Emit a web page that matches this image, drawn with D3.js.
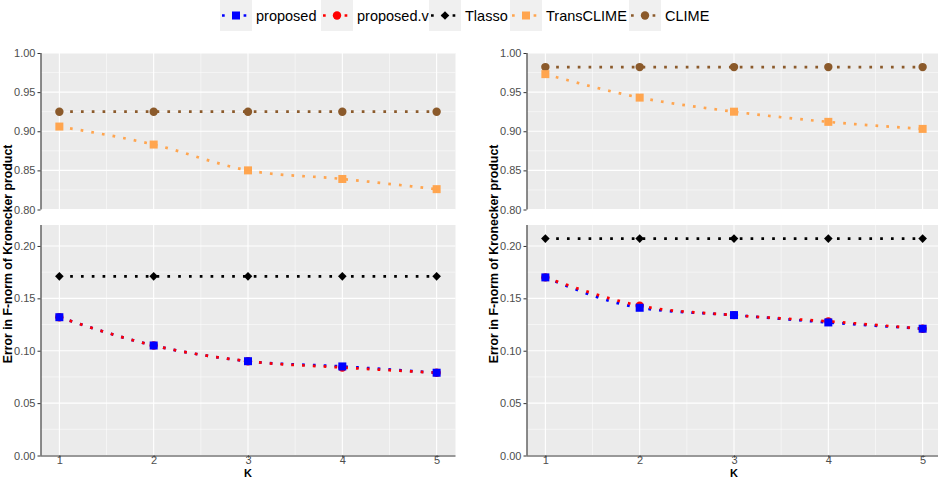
<!DOCTYPE html>
<html>
<head>
<meta charset="utf-8">
<script src="https://cdn.jsdelivr.net/npm/d3@7"></script>
<style>
  body { margin: 0; background: #fff; }
  svg { display: block; font-family: "Liberation Sans", Arial, sans-serif; }
</style>
</head>
<body>
<svg id="chart" width="938" height="479"></svg>
<script>
// データ
var kValues = [1, 2, 3, 4, 5];
var seriesNames = ["proposed", "proposed.v", "Tlasso", "TransCLIME", "CLIME"];
var seriesColors = ["#0000FF", "#FF0000", "#000000", "#FFA54F", "#8B5A2B"];
var seriesShapes = ["square", "circle", "diamond", "square", "circle"];

// 左側のパネル
var leftCLIME = [0.925, 0.925, 0.925, 0.925, 0.925];
var leftTransCLIME = [0.906, 0.883, 0.850, 0.839, 0.826];
var leftTlasso = [0.171, 0.171, 0.171, 0.171, 0.171];
var leftProposed = [0.132, 0.105, 0.090, 0.085, 0.079];
var leftProposedV = [0.132, 0.105, 0.090, 0.084, 0.079];

// 右側のパネル
var rightCLIME = [0.982, 0.982, 0.982, 0.982, 0.982];
var rightTransCLIME = [0.973, 0.943, 0.925, 0.912, 0.903];
var rightTlasso = [0.207, 0.207, 0.207, 0.207, 0.207];
var rightProposed = [0.170, 0.141, 0.134, 0.127, 0.121];
var rightProposedV = [0.170, 0.143, 0.134, 0.128, 0.121];

var topTicks = [0.80, 0.85, 0.90, 0.95, 1.00];
var bottomTicks = [0.00, 0.05, 0.10, 0.15, 0.20];

var svg = d3.select("#chart");

// 系列名 -> 色, 形
function colorOf(name) { return seriesColors[seriesNames.indexOf(name)]; }
function shapeOf(name) { return seriesShapes[seriesNames.indexOf(name)]; }

function drawMarker(g, name, x, y) {
    var shape = shapeOf(name), col = colorOf(name);
    if (shape == "square") {
        g.append("rect").attr("x", x - 4).attr("y", y - 4)
            .attr("width", 8).attr("height", 8).attr("fill", col);
    } else if (shape == "circle") {
        g.append("circle").attr("cx", x).attr("cy", y).attr("r", 4.2).attr("fill", col);
    } else {
        g.append("path")
            .attr("d", "M" + x + "," + (y - 4.3) + "L" + (x + 4.3) + "," + y + "L" + x + "," + (y + 4.3) + "L" + (x - 4.3) + "," + y + "Z")
            .attr("fill", col);
    }
}

function drawPanel(opt) {
    var g = svg.append("g");
    var x = d3.scaleLinear().domain([0.8, 5.2]).range([opt.x0, opt.x0 + 415]);
    var y = d3.scaleLinear().domain(opt.domain).range([opt.y1, opt.y0]);

    // 背景
    g.append("rect").attr("x", opt.x0).attr("y", opt.y0)
        .attr("width", 415).attr("height", opt.y1 - opt.y0).attr("fill", "#EBEBEB");

    // 補助目盛
    var yMinor = opt.ticks.map(function(d) { return d + 0.025; })
        .filter(function(d) { return d < opt.domain[1]; });
    g.selectAll(".ymin").data(yMinor).enter().append("line")
        .attr("x1", opt.x0).attr("x2", opt.x0 + 415)
        .attr("y1", function(d) { return y(d); }).attr("y2", function(d) { return y(d); })
        .attr("stroke", "#fff").attr("stroke-width", 0.5);
    g.selectAll(".xmin").data([1.5, 2.5, 3.5, 4.5]).enter().append("line")
        .attr("y1", opt.y0).attr("y2", opt.y1)
        .attr("x1", function(d) { return x(d); }).attr("x2", function(d) { return x(d); })
        .attr("stroke", "#fff").attr("stroke-width", 0.5);
    // 主目盛
    g.selectAll(".ymaj").data(opt.ticks).enter().append("line")
        .attr("x1", opt.x0).attr("x2", opt.x0 + 415)
        .attr("y1", function(d) { return y(d); }).attr("y2", function(d) { return y(d); })
        .attr("stroke", "#fff").attr("stroke-width", 1.1);
    g.selectAll(".xmaj").data(kValues).enter().append("line")
        .attr("y1", opt.y0).attr("y2", opt.y1)
        .attr("x1", function(d) { return x(d); }).attr("x2", function(d) { return x(d); })
        .attr("stroke", "#fff").attr("stroke-width", 1.1);

    // 線
    var line = d3.line().x(function(d, i) { return x(kValues[i]); }).y(function(d) { return y(d); })
        .curve(d3.curveMonotoneX);
    opt.series.forEach(function(s) {
        g.append("path").datum(s.values).attr("d", line)
            .attr("fill", "none").attr("stroke", colorOf(s.name))
            .attr("stroke-width", 2.7).attr("stroke-dasharray", "2.7 8.1");
    });
    // 点 (proposed を最後に描画)
    opt.series.slice().reverse().forEach(function(s) {
        s.values.forEach(function(v, i) { drawMarker(g, s.name, x(kValues[i]), y(v)); });
    });

    // y軸
    var yAxis = g.append("g").attr("transform", "translate(" + opt.x0 + ",0)")
        .call(d3.axisLeft(y).tickValues(opt.ticks).tickSize(3).tickPadding(2).tickFormat(d3.format(".2f")));
    yAxis.select(".domain").attr("stroke", "#333").attr("stroke-width", 1.1)
        .attr("d", "M0.5," + opt.y0 + "V" + opt.y1);
    yAxis.selectAll(".tick line").attr("stroke", "#333");
    yAxis.selectAll("text").attr("fill", "#4D4D4D").style("font-size", "11px")
        .style("font-family", "Liberation Sans, Arial, sans-serif");

    if (opt.xaxis) {
        var xAxis = g.append("g").attr("transform", "translate(0," + opt.y1 + ")")
            .call(d3.axisBottom(x).tickValues(kValues).tickSize(2).tickPadding(0).tickFormat(d3.format("d")));
        xAxis.select(".domain").attr("stroke", "#333").attr("stroke-width", 1.1)
            .attr("d", "M" + opt.x0 + ",0.5H" + (opt.x0 + 415));
        xAxis.selectAll(".tick line").attr("stroke", "#333");
        xAxis.selectAll("text").attr("fill", "#4D4D4D").style("font-size", "11px")
            .attr("dy", "0.6em")
            .style("font-family", "Liberation Sans, Arial, sans-serif");
        g.append("text").attr("x", opt.x0 + 207.5).attr("y", opt.y1 + 21.5)
            .attr("text-anchor", "middle").attr("font-size", 11).attr("font-weight", "bold")
            .attr("fill", "#000").text("K");
    }
}

[
    { x0: 40.5, topS: [["TransCLIME", leftTransCLIME], ["CLIME", leftCLIME]],
      botS: [["proposed", leftProposed], ["proposed.v", leftProposedV], ["Tlasso", leftTlasso]] },
    { x0: 526.5, topS: [["TransCLIME", rightTransCLIME], ["CLIME", rightCLIME]],
      botS: [["proposed", rightProposed], ["proposed.v", rightProposedV], ["Tlasso", rightTlasso]] }
].forEach(function(p) {
    var toSeries = function(arr) { return arr.map(function(a) { return { name: a[0], values: a[1] }; }); };
    drawPanel({ x0: p.x0, y0: 53, y1: 209.5, domain: [0.8, 1.0], ticks: topTicks,
                series: toSeries(p.topS), xaxis: false });
    drawPanel({ x0: p.x0, y0: 225, y1: 455.5, domain: [0, 0.22], ticks: bottomTicks,
                series: toSeries(p.botS), xaxis: true });
    svg.append("text")
        .attr("transform", "translate(" + (p.x0 - 28.5) + ",254) rotate(-90)")
        .attr("text-anchor", "middle").attr("font-size", 12.3).attr("font-weight", "bold")
        .attr("fill", "#000").text("Error in F-norm of Kronecker product");
});

// 凡例
var legendX = [220, 321, 429, 510, 629];
var legend = svg.append("g");
seriesNames.forEach(function(name, i) {
    var lg = legend.append("g").attr("transform", "translate(" + legendX[i] + ",0)");
    lg.append("rect").attr("x", 0).attr("y", 0).attr("width", 32).attr("height", 31).attr("fill", "#F0F0F0");
    lg.append("line").attr("x1", 2).attr("x2", 30).attr("y1", 15.5).attr("y2", 15.5)
        .attr("stroke", colorOf(name)).attr("stroke-width", 2.7).attr("stroke-dasharray", "2.7 8.1");
    drawMarker(lg, name, 16, 15.5);
    lg.append("text").attr("x", 36).attr("y", 21).attr("font-size", 14.5)
        .attr("fill", "#000").text(name);
});
</script>
</body>
</html>
